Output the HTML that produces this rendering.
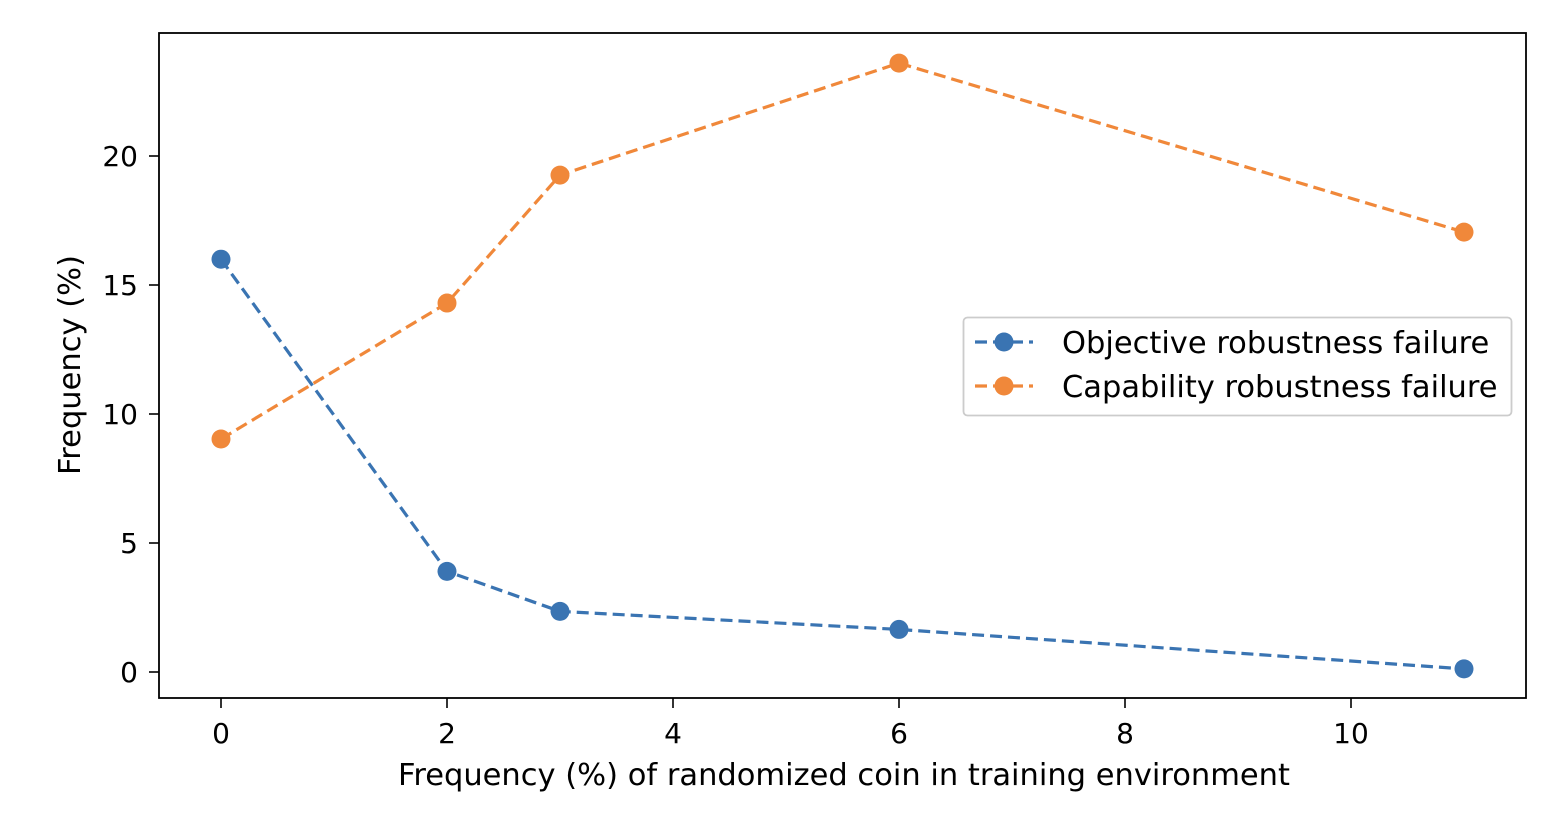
<!DOCTYPE html>
<html><head><meta charset="utf-8"><style>
body{margin:0;background:#fff;}
svg text{font-family:"DejaVu Sans","Liberation Sans",sans-serif;fill:#000;}
</style></head><body>
<svg id="chart" width="1556" height="826" xmlns="http://www.w3.org/2000/svg"></svg>
<script>
const categories=[0,2,3,6,11];
const objectiveValues=[16.0,3.9,2.35,1.65,0.12];
const capabilityValues=[9.03,14.3,19.26,23.6,17.05];
const xTicks=[0,2,4,6,8,10];
const yTicks=[0,5,10,15,20];
const seriesNames=["Objective robustness failure","Capability robustness failure"];

const NS="http://www.w3.org/2000/svg";
const svg=document.getElementById('chart');
const L=159,R=1526,T=33,B=698;
const x=v=>221+v*113.0;
const y=v=>672-v*25.8;
function mk(tag,attrs,parent){const e=document.createElementNS(NS,tag);for(const k in attrs)e.setAttribute(k,attrs[k]);(parent||svg).appendChild(e);return e;}

const frame=mk('rect',{x:L,y:T,width:R-L,height:B-T,fill:'none',stroke:'#000','stroke-width':1.8});



xTicks.forEach(t=>{
  const l=mk('line',{x1:x(t),x2:x(t),y1:B,y2:B+10,stroke:'#000','stroke-width':1.6});
  
  
  const tx=mk('text',{x:x(t),y:743,'text-anchor':'middle','font-size':28});
  tx.textContent=t;
  
  
});
yTicks.forEach(t=>{
  const l=mk('line',{x1:L-10,x2:L,y1:y(t),y2:y(t),stroke:'#000','stroke-width':1.6});
  
  
  const tx=mk('text',{x:L-21,y:y(t)+10,'text-anchor':'end','font-size':28});
  tx.textContent=t;
  
  
});
const xt=mk('text',{x:844,y:785,'text-anchor':'middle','font-size':30.5});
xt.textContent='Frequency (%) of randomized coin in training environment';


const yt=mk('text',{x:0,y:0,'text-anchor':'middle','font-size':30.5,transform:'translate(80,365) rotate(-90)'});
yt.textContent='Frequency (%)';



const colors=['#3a74b2','#f0883a'];
[objectiveValues,capabilityValues].forEach((vals,i)=>{
  const pts=categories.map((c,j)=>x(c)+','+y(vals[j])).join(' ');
  const pl=mk('polyline',{points:pts,fill:'none',stroke:colors[i],'stroke-width':3.2,'stroke-dasharray':'12,6'});
  
  
  categories.forEach((c,j)=>{
    const p=mk('circle',{cx:x(c),cy:y(vals[j]),r:9.5,fill:colors[i]});
    
    
  });
});

const lg=mk('g',{});


mk('rect',{x:963.5,y:317.5,width:548,height:98,rx:4,fill:'#fff','fill-opacity':0.8,stroke:'#cccccc','stroke-width':1.8},lg);
seriesNames.forEach((n,i)=>{
  const cy=342+i*44;
  const ll=mk('line',{x1:975,x2:1033,y1:cy,y2:cy,stroke:colors[i],'stroke-width':3.2,'stroke-dasharray':'12,6'},lg);
  
  
  const c=mk('circle',{cx:1004,cy:cy,r:9.5,fill:colors[i]},lg);
  
  
  const t=mk('text',{x:1062,y:cy+11,'font-size':30.5},lg);
  t.textContent=n;
  
  
});
</script>
</body></html>
